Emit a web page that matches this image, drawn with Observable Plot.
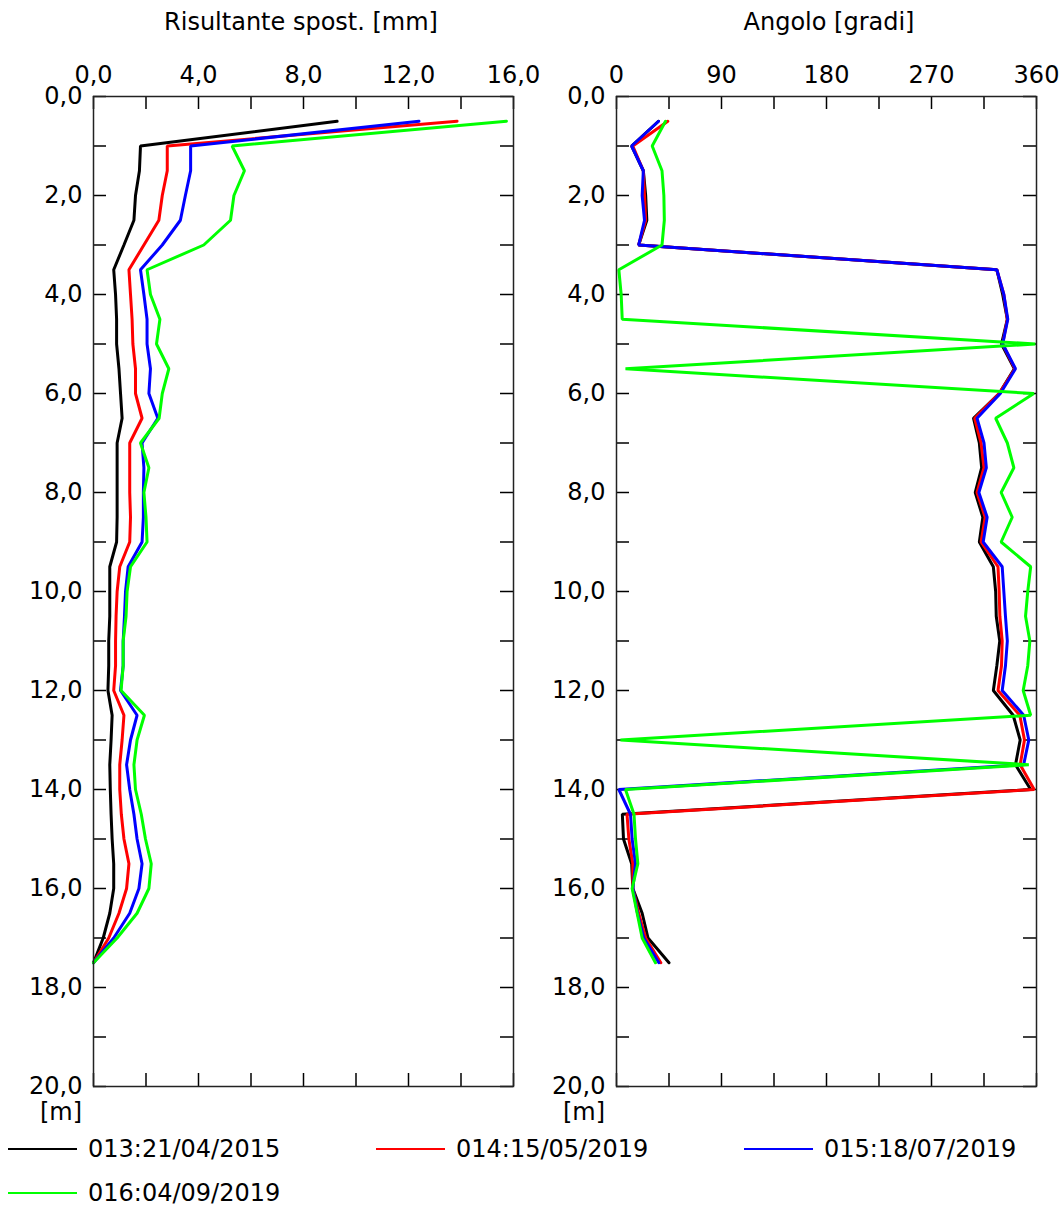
<!DOCTYPE html>
<html>
<head>
<meta charset="utf-8">
<script src="https://cdn.jsdelivr.net/npm/d3@7"></script>
<script src="https://cdn.jsdelivr.net/npm/@observablehq/plot@0.6"></script>
<style>
  body { margin: 0; background: #fff; font-family: "DejaVu Sans", sans-serif; }
  #root { position: relative; width: 1063px; height: 1213px; overflow: hidden; background: #fff; }
  .abs { position: absolute; white-space: nowrap; font-size: 24px; line-height: 28px; color: #000; }
  .center { transform: translateX(-50%); }
  .swatch { position: absolute; height: 2px; width: 69px; }
</style>
</head>
<body>
<div id="root"></div>
<script>
// ---- data ----
const depths = [0.5, 1.0, 1.5, 2.0, 2.5, 3.0, 3.5, 4.0, 4.5, 5.0, 5.5, 6.0, 6.5, 7.0, 7.5, 8.0, 8.5, 9.0, 9.5, 10.0,
                10.5, 11.0, 11.5, 12.0, 12.5, 13.0, 13.5, 14.0, 14.5, 15.0, 15.5, 16.0, 16.5, 17.0, 17.5];

const seriesNames = ["013:21/04/2015", "014:15/05/2019", "015:18/07/2019", "016:04/09/2019"];
const seriesColors = ["#000000", "#ff0000", "#0000ff", "#00ff00"];

// Risultante spostamento [mm]
const displ013 = [9.28, 1.79, 1.75, 1.6, 1.54, 1.16, 0.77, 0.84, 0.88, 0.88, 0.97, 1.03, 1.09, 0.9, 0.9, 0.9, 0.9, 0.88, 0.62, 0.62,
                  0.62, 0.58, 0.58, 0.55, 0.71, 0.67, 0.62, 0.64, 0.67, 0.71, 0.77, 0.77, 0.62, 0.37, 0.0];
const displ014 = [13.85, 2.81, 2.81, 2.62, 2.49, 1.92, 1.35, 1.41, 1.47, 1.5, 1.6, 1.6, 1.85, 1.38, 1.38, 1.38, 1.41, 1.38, 1.0, 0.9,
                  0.86, 0.84, 0.84, 0.77, 1.16, 1.09, 1.0, 1.0, 1.06, 1.16, 1.35, 1.26, 0.97, 0.58, 0.0];
const displ015 = [12.4, 3.7, 3.7, 3.5, 3.31, 2.62, 1.79, 1.92, 2.04, 2.04, 2.17, 2.11, 2.45, 1.85, 1.92, 1.9, 1.9, 1.85, 1.32, 1.22,
                  1.18, 1.13, 1.13, 1.03, 1.66, 1.41, 1.26, 1.38, 1.54, 1.66, 1.85, 1.73, 1.38, 0.77, 0.0];
const displ016 = [15.73, 5.28, 5.75, 5.35, 5.22, 4.2, 2.04, 2.17, 2.53, 2.4, 2.87, 2.62, 2.5, 1.79, 2.11, 1.92, 2.0, 2.04, 1.41, 1.28,
                  1.24, 1.13, 1.13, 1.05, 1.94, 1.66, 1.54, 1.6, 1.82, 1.98, 2.2, 2.11, 1.66, 0.9, 0.0];

// Angolo [gradi]
const angle013 = [36, 13, 23, 25, 26, 19, 326, 331, 335, 330, 341, 328, 306, 311, 313, 307.5, 314, 311, 323, 325,
                  325.5, 328.5, 326, 323, 340, 346, 342, 355, 5, 6, 13, 14, 22, 27, 45];
const angle014 = [44, 14, 23, 24, 25, 19, 326, 332, 335, 331, 341.5, 328, 307, 312.5, 315, 309, 316, 312.5, 327, 328,
                  328.6, 330.6, 330, 327, 345.7, 349.7, 346, 358, 9, 10.6, 14, 14, 19, 25, 38];
const angle015 = [36, 13, 23, 22, 24, 19, 326, 332, 335.4, 331, 342, 329, 309, 315, 317, 310.6, 317.7, 314.3, 330.6, 332,
                  333.4, 335, 333.4, 330.6, 349, 353.4, 349, 2, 12, 13.4, 16.3, 14, 18, 23.4, 36.3];
const angle016 = [42, 30.6, 39, 40.6, 41, 39, 2, 4, 4.9, 359, 7.7, 357.7, 325, 335, 340.6, 329.7, 339.2, 329.7, 355, 352.5,
                  350.6, 354.3, 352.5, 348.6, 355, 3.4, 353.4, 7.7, 15, 16.3, 18.3, 13.4, 17.7, 22, 33.4];

const displTicks = [0, 2, 4, 6, 8, 10, 12, 14, 16];
const displLabels = [0, 4, 8, 12, 16];
const angleTicks = [0, 45, 90, 135, 180, 225, 270, 315, 360];
const angleLabels = [0, 90, 180, 270, 360];
const depthTicks = [0, 1, 2, 3, 4, 5, 6, 7, 8, 9, 10, 11, 12, 13, 14, 15, 16, 17, 18, 19, 20];
const depthLabels = [0, 2, 4, 6, 8, 10, 12, 14, 16, 18, 20];

const titleDispl = "Risultante spost. [mm]";
const titleAngle = "Angolo [gradi]";
const depthUnit = "[m]";

// ---- build tidy rows ----
function rowsFrom(arrays) {
  const rows = [];
  arrays.forEach((arr, si) => {
    arr.forEach((v, i) => rows.push({series: seriesNames[si], depth: depths[i], v}));
  });
  return rows;
}
const displRows = rowsFrom([displ013, displ014, displ015, displ016]);
const angleRows = rowsFrom([angle013, angle014, angle015, angle016]);

const fmtComma1 = d => d.toFixed(1).replace(".", ",");
const fmtInt = d => String(d);

function panel(rows, xDomain, xTicks, xLabels, xFmt) {
  const W = 531, H = 1100, mL = 93, mR = 18, mT = 96, mB = 14;
  const innerW = W - mL - mR, innerH = H - mT - mB;
  const t = 13;
  return Plot.plot({
    width: W, height: H,
    marginLeft: mL, marginRight: mR, marginTop: mT, marginBottom: mB,
    style: {fontFamily: "DejaVu Sans, sans-serif", fontSize: "24px", color: "#000", background: "transparent", overflow: "visible"},
    x: {domain: xDomain},
    y: {domain: [0, 20], reverse: true},
    color: {domain: seriesNames, range: seriesColors},
    marks: [
      Plot.tickX(xTicks, {x: d => d, stroke: "#000", strokeWidth: 1.5, insetBottom: innerH - t}),
      Plot.tickX(xTicks, {x: d => d, stroke: "#000", strokeWidth: 1.5, insetTop: innerH - t}),
      Plot.tickY(depthTicks, {y: d => d, stroke: "#000", strokeWidth: 1.5, insetRight: innerW - t}),
      Plot.tickY(depthTicks, {y: d => d, stroke: "#000", strokeWidth: 1.5, insetLeft: innerW - t}),
      Plot.axisX(xLabels, {anchor: "top", tickSize: 0, tickPadding: 14, tickFormat: xFmt, label: null, fontSize: 24, fill: "#000"}),
      Plot.axisY(depthLabels, {anchor: "left", tickSize: 0, tickPadding: 11, tickFormat: fmtComma1, label: null, fontSize: 24, fill: "#000"}),
      Plot.line(rows, {x: "v", y: "depth", z: "series", stroke: "series", strokeWidth: 3, strokeLinejoin: "miter"}),
      Plot.frame({stroke: "#222", strokeWidth: 1.5})
    ]
  });
}

const root = document.getElementById("root");

const svg1 = panel(displRows, [0, 16], displTicks, displLabels, fmtComma1);
svg1.style.position = "absolute"; svg1.style.left = "0px"; svg1.style.top = "0px";
root.appendChild(svg1);

const svg2 = panel(angleRows, [0, 360], angleTicks, angleLabels, fmtInt);
svg2.style.position = "absolute"; svg2.style.left = "523px"; svg2.style.top = "0px";
root.appendChild(svg2);

function addText(txt, x, y, center) {
  const d = document.createElement("div");
  d.className = "abs" + (center ? " center" : "");
  d.style.left = x + "px"; d.style.top = y + "px";
  d.textContent = txt;
  root.appendChild(d);
}
addText(titleDispl, 301, 8, true);
addText(titleAngle, 829, 8, true);
addText(depthUnit, 61, 1098, true);
addText(depthUnit, 584, 1098, true);

// legend
const legendPos = [[8, 1149], [376, 1149], [744, 1149], [8, 1193]];
seriesNames.forEach((name, i) => {
  const [x, y] = legendPos[i];
  const s = document.createElement("div");
  s.className = "swatch";
  s.style.left = x + "px"; s.style.top = (y - 1) + "px";
  s.style.background = seriesColors[i];
  root.appendChild(s);
  addText(name, x + 80, y - 14, false);
});
</script>
</body>
</html>
